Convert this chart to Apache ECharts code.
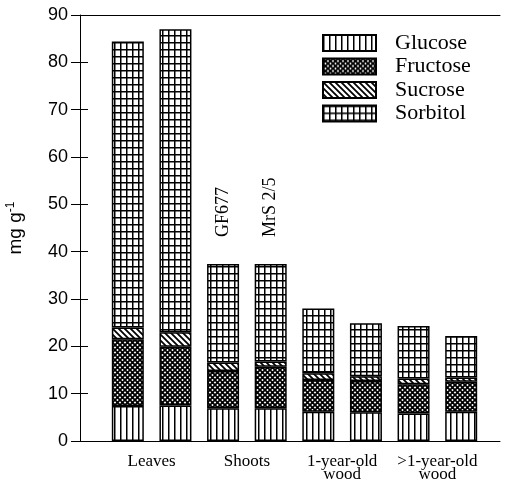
<!DOCTYPE html>
<html>
<head>
<meta charset="utf-8">
<title>Sugars in leaves, shoots and wood</title>
<script src="https://cdn.jsdelivr.net/npm/echarts@6/dist/echarts.min.js"></script>
</head>
<body style="margin:0">
<div id="main" style="width:505px;height:485px;"></div>
<script type="text/javascript">
// one bar per organ x rootstock, two bars per organ group
var bars = ['Leaves GF677', 'Leaves MrS 2/5', 'Shoots GF677', 'Shoots MrS 2/5',
            '1-year-old GF677', '1-year-old MrS 2/5', '>1-year-old GF677', '>1-year-old MrS 2/5'];
var groups = ['Leaves', 'Shoots', '1-year-old\nwood', '>1-year-old\nwood'];
var rootstocks = ['GF677', 'MrS 2/5'];

// mg g-1
var glucose  = [7.4, 7.5, 6.9, 6.9, 6.2, 6.1, 5.8, 6.2];
var fructose = [14.1, 12.4, 7.9, 8.8, 6.7, 6.6, 6.2, 6.3];
var sucrose  = [2.5, 3.1, 1.8, 1.1, 1.4, 1.0, 1.2, 0.9];
var sorbitol = [60.4, 64.0, 20.8, 20.6, 13.7, 11.2, 11.1, 8.8];

var yMin = 0, yMax = 90, yStep = 10;

// little black & white fill patterns
function tile(w, h, draw) {
    var c = document.createElement('canvas');
    c.width = w; c.height = h;
    var g = c.getContext('2d');
    g.fillStyle = '#fff';
    g.fillRect(0, 0, w, h);
    g.fillStyle = '#000';
    g.strokeStyle = '#000';
    draw(g, w, h);
    return {image: c, repeat: 'repeat'};
}
var patGlucose = tile(6, 6, function (g, w, h) {
    g.fillRect(0, 0, 1.5, h);
});
var patFructose = tile(5, 5, function (g, w, h) {
    g.lineWidth = 1.8;
    g.beginPath();
    g.moveTo(-1, -1); g.lineTo(6, 6);
    g.moveTo(-1, 6); g.lineTo(6, -1);
    g.stroke();
});
var patSucrose = tile(6, 6, function (g, w, h) {
    g.lineWidth = 1.8;
    g.beginPath();
    g.moveTo(-1, -1); g.lineTo(7, 7);
    g.moveTo(-1, 5); g.lineTo(1, 7);
    g.moveTo(5, -1); g.lineTo(7, 1);
    g.stroke();
});
var patSorbitol = tile(6, 7, function (g, w, h) {
    g.fillRect(0, 0, w, 1.5);
    g.fillRect(0, 0, 1.5, h);
});

var serif = '"Liberation Serif", "DejaVu Serif", serif';
var sans = '"Liberation Sans", Arial, sans-serif';

var sorbitolData = sorbitol.slice();
// rootstock names written above the two shoot bars
sorbitolData[2] = {value: sorbitol[2], label: {show: true, formatter: rootstocks[0]}};
sorbitolData[3] = {value: sorbitol[3], label: {show: true, formatter: rootstocks[1]}};

function bar(name, data, pat) {
    return {
        name: name,
        type: 'bar',
        stack: 'sugar',
        xAxisIndex: 2,
        yAxisIndex: 2,
        barWidth: 32,
        data: data,
        itemStyle: {color: pat, borderColor: '#000', borderWidth: 1.5},
        emphasis: {disabled: true},
        label: {
            show: false,
            position: 'top',
            rotate: 90,
            align: 'left',
            verticalAlign: 'middle',
            distance: 27,
            color: '#000',
            fontFamily: serif,
            fontSize: 18
        }
    };
}

var frameX = {
    type: 'value', gridIndex: 0, min: 0, max: 1,
    splitLine: {show: false}, axisTick: {show: false}, axisLabel: {show: false},
    axisLine: {show: true, onZero: false, lineStyle: {color: '#000', width: 1}}
};

var myChart = echarts.init(document.getElementById('main'));
var option = {
    animation: false,
    backgroundColor: '#fff',
    // grid 0: frame and y scale, grid 1: the bars
    grid: [
        {left: 80, right: 5, top: 15, bottom: 44, outerBoundsMode: 'none', containLabel: false},
        {left: 104, right: 20, top: 15, bottom: 44, outerBoundsMode: 'none', containLabel: false}
    ],
    legend: {
        orient: 'vertical',
        left: 317,
        top: 27,
        icon: 'rect',
        itemWidth: 53,
        itemHeight: 16,
        itemGap: 1.5,
        textStyle: {fontFamily: serif, fontSize: 22, color: '#000', padding: [0, 0, 0, 14]},
        data: ['Glucose', 'Fructose', 'Sucrose', 'Sorbitol']
    },
    xAxis: [
        Object.assign({}, frameX, {position: 'bottom'}),
        Object.assign({}, frameX, {position: 'top'}),
        {
            type: 'category', gridIndex: 1, position: 'bottom', data: bars, show: false
        },
        {
            type: 'category', gridIndex: 1, position: 'bottom', data: groups,
            axisLine: {show: false, onZero: false}, axisTick: {show: false},
            axisLabel: {
                color: '#000', fontFamily: serif, fontSize: 17,
                lineHeight: 13, margin: 14, interval: 0
            }
        }
    ],
    yAxis: [{
        type: 'value',
        gridIndex: 0,
        min: yMin,
        max: yMax,
        interval: yStep,
        name: '{a|mg g}{s|-1}',
        nameLocation: 'middle',
        nameRotate: 90,
        nameGap: 53,
        nameTextStyle: {
            rich: {
                a: {fontFamily: sans, fontSize: 19, color: '#000'},
                s: {fontFamily: sans, fontSize: 12, color: '#000', verticalAlign: 'top', padding: [0, 0, 10, 0]}
            }
        },
        splitLine: {show: false},
        axisLine: {show: true, lineStyle: {color: '#000', width: 1}},
        axisTick: {inside: true, length: 8, lineStyle: {color: '#000'}},
        axisLabel: {color: '#000', fontFamily: sans, fontSize: 18, margin: 12}
    }, {
        type: 'value',
        gridIndex: 0,
        position: 'right',
        min: yMin,
        max: yMax,
        interval: yStep,
        splitLine: {show: false},
        axisLine: {show: false},
        axisTick: {show: true, inside: true, length: 9, lineStyle: {color: '#000'}},
        axisLabel: {show: false}
    }, {
        type: 'value',
        gridIndex: 1,
        min: yMin,
        max: yMax,
        interval: yStep,
        show: false
    }],
    series: [
        bar('Glucose', glucose, patGlucose),
        bar('Fructose', fructose, patFructose),
        bar('Sucrose', sucrose, patSucrose),
        bar('Sorbitol', sorbitolData, patSorbitol)
    ]
};
myChart.setOption(option);
</script>
</body>
</html>
